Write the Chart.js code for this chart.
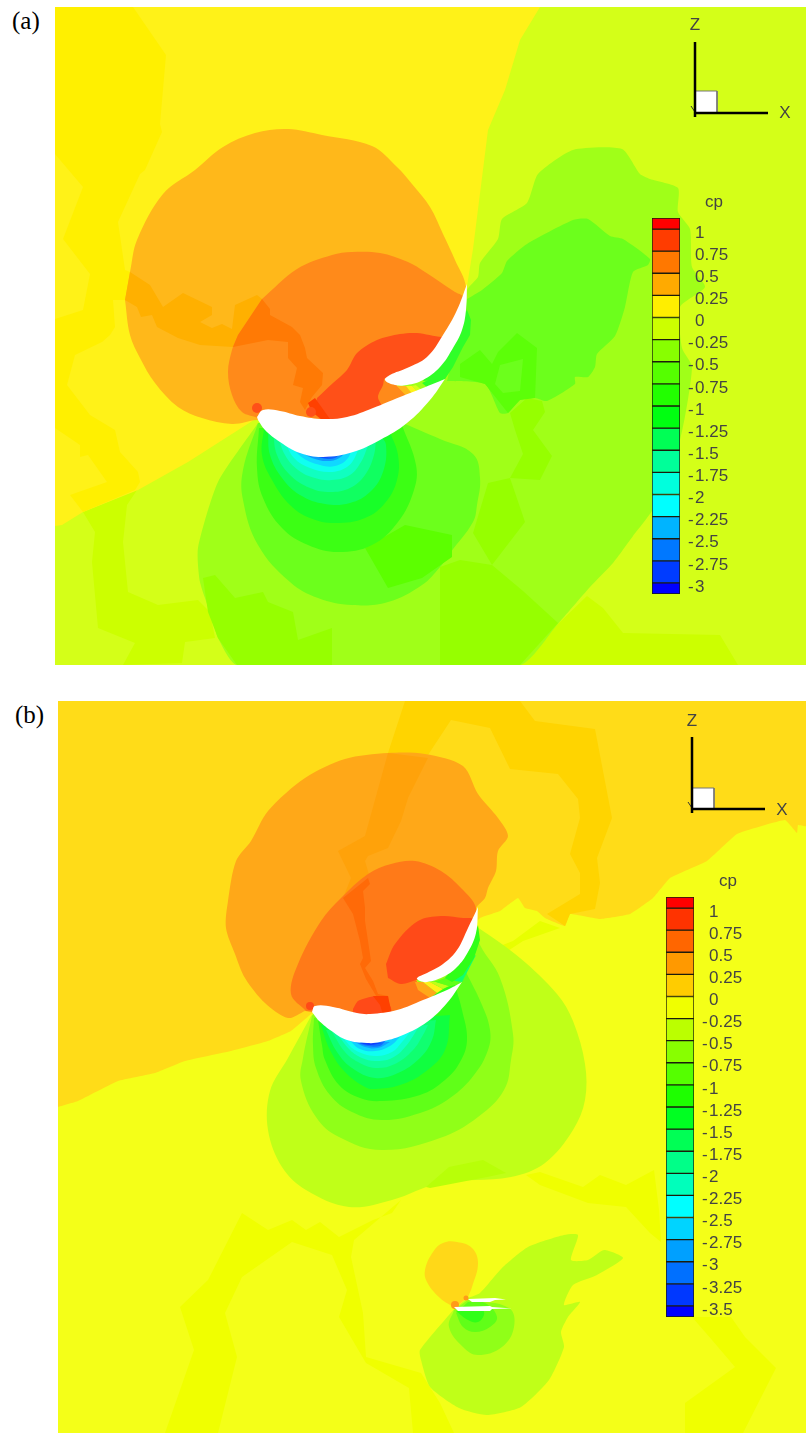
<!DOCTYPE html>
<html>
<head>
<meta charset="utf-8">
<title>cp contours</title>
<script src="https://cdn.jsdelivr.net/npm/chart.js@4/dist/chart.umd.min.js"></script>
<style>
html, body { margin: 0; background: #fff; overflow: hidden; }
#page { position: relative; width: 806px; height: 1433px; }
#page canvas { position: absolute; }
.tag { position: absolute; font: 25px "Liberation Serif", serif; color: #000; }
</style>
</head>
<body>
<div id="page">
  <div class="tag" style="left:12px;top:7px">(a)</div>
  <div class="tag" style="left:15px;top:701px">(b)</div>
  <canvas id="fieldA" style="left:55px;top:7px"></canvas>
  <canvas id="fieldB" style="left:58px;top:701px"></canvas>
  <canvas id="barA" style="left:652px;top:218px"></canvas>
  <canvas id="barB" style="left:666px;top:897px"></canvas>
</div>
<script>
// colour bar values
const ticksA = [1, 0.75, 0.5, 0.25, 0, -0.25, -0.5, -0.75, -1, -1.25, -1.5, -1.75, -2, -2.25, -2.5, -2.75, -3];
const ticksB = [1, 0.75, 0.5, 0.25, 0, -0.25, -0.5, -0.75, -1, -1.25, -1.5, -1.75, -2, -2.25, -2.5, -2.75, -3, -3.25, -3.5];
const topA = 1.125, endA = -3.125;
const topB = 1.125, endB = -3.625;
const bandsA = ['#ff0000','#ff3c00','#ff7800','#ffaa00','#ffee00','#ccff00','#88ff00','#55ff00','#22ff00','#00ff11','#00ff55','#00ff99','#00ffdd','#00ffff','#00b4ff','#0078ff','#003cff','#0000ff'];
const bandsB = ['#ff0000','#ff3300','#ff6600','#ff9900','#ffcc00','#f0ff00','#bbff00','#88ff00','#55ff00','#1eff00','#00ff22','#00ff55','#00ff88','#00ffbb','#00ffff','#00d4ff','#00a0ff','#0070ff','#0038ff','#0000ff'];

// contours are x,y pairs in picture units, read off the reference
// panel (a)
const aBox = [55,7, 806,7, 806,665, 55,665];
const aCamber = [462,320, 448,350, 422,372, 395,381, 408,400, 380,425, 350,435, 300,435, 262,422];
const aLowRight = [520,665, 557,625, 587,596, 603,608, 623,633, 720,635, 738,665];
const aLowLeft = [83,512, 137,490, 127,505, 123,542, 128,592, 158,605, 198,600, 210,612, 215,638, 185,642, 182,663, 123,665, 135,643, 98,628, 92,562, 95,532];
const aYellow = [55,7, 540,7, 520,40, 505,90, 488,130, 473,249, 468,280, ...aCamber, 257,418, 188,462, 138,490, 83,512, 62,525, 55,526];
const aYellowDark = [55,7, 133,7, 166,55, 160,124, 162,132, 145,170, 140,174, 118,222, 125,270, 130,272, 125,300, 113,300, 115,327, 110,335, 102,342, 75,355, 67,385, 90,415, 115,430, 120,452, 138,472, 140,482, 135,490, 83,512, 70,495, 107,482, 88,455, 80,457, 80,445, 55,428, 55,319, 83,310, 90,274, 63,239, 83,187, 55,154];
const aMinus25 = [258,423, 218,482, 198,548, 200,582, 212,618, 218,638, 237,665, 520,665, 557,625, 590,587, 613,563, 633,536, 653,509, 680,440, 692,367, 682,348, 680,307, 705,287, 692,267, 690,229, 678,212, 678,188, 650,179, 640,174, 622,149, 573,150, 538,174, 527,203, 502,219, 498,239, 480,263, 478,277, 467,290, ...aCamber];
const aPatch1 = [203,578, 215,575, 235,598, 263,592, 268,602, 293,612, 298,640, 332,628, 332,665, 237,665, 218,638, 208,612];
const aPatch2 = [510,413, 527,398, 542,401, 545,412, 533,430, 552,456, 540,480, 510,478, 523,454, 515,430];
const aPatch3 = [488,483, 510,478, 523,516, 525,522, 492,565, 473,533];
const aPatch4 = [440,567, 460,560, 492,565, 523,591, 558,623, 520,665, 440,665];
const aWake = [467,299, 482,290, 502,273, 507,261, 527,244, 573,220, 588,219, 610,236, 623,239, 650,259, 648,265, 633,272, 625,307, 615,336, 597,354, 595,367, 588,377, 575,377, 575,384, 547,401, 535,398, 520,400, 508,413, 500,413, 485,384, 447,381];
const aWakeDark = [460,364, 480,350, 492,364, 498,352, 517,333, 537,348, 535,398, 520,400, 508,413, 485,384, 460,377];
const aWakeHole = [495,384, 500,365, 523,359, 520,391, 503,393];
const aRing50 = [258,423, 243,470, 243,500, 258,545, 290,582, 318,598, 352,605, 388,602, 422,585, 440,567, 450,553, 473,522, 477,505, 480,478, 473,454, 440,439, 405,424];
const aRing50b = [365,548, 405,525, 452,535, 452,557, 422,578, 388,588];
const aRing75 = [259,428, 257,468, 263,498, 282,528, 308,545, 338,552, 372,545, 398,522, 414,490, 416,465, 402,425];
const aRing100 = [264,428, 262,455, 272,480, 290,505, 310,518, 335,523, 365,518, 385,503, 397,480, 398,455, 390,432];
const aRing125 = [268,432, 270,455, 282,478, 300,495, 325,504, 350,503, 370,492, 383,472, 386,445, 380,435];
const aRing150 = [273,432, 277,455, 290,475, 310,488, 330,492, 350,488, 365,475, 374,455, 376,438];
const aRing175 = [278,436, 285,455, 298,470, 315,478, 332,480, 350,475, 361,462, 368,446];
const aRing200 = [285,442, 294,458, 310,468, 330,472, 347,467, 356,455, 360,440];
const aRing225 = [290,445, 303,458, 320,465, 335,466, 348,458, 352,444];
const aRing250 = [298,449, 312,458, 330,461, 342,456, 347,447];
const aRing275 = [308,452, 322,458, 335,458, 342,450];
const aRing300 = [314,454, 325,457.5, 336,454];
const aPlus25 = [130,272, 137,240, 163,194, 195,170, 223,147, 255,133, 288,129, 322,135, 372,146, 397,167, 412,184, 430,207, 443,234, 455,260, 466,287, ...aCamber, 257,420, 232,424, 202,418, 178,407, 155,383, 140,358, 130,335, 125,300];
const aPlus25Dark = [130,272, 150,285, 163,307, 183,293, 212,307, 212,315, 200,322, 212,328, 222,324, 232,329, 235,305, 257,295, 262,299, 238,335, 233,347, 200,345, 178,338, 157,327, 152,315, 141,317, 137,307, 125,300];
const aPlus50 = [262,299, 297,269, 332,255, 352,252, 380,253, 408,262, 425,272, 455,292, 463,297, ...aCamber, 258,418, 242,412, 232,395, 228,372, 232,350, 238,335];
const aPlus50Dark = [262,299, 270,309, 270,315, 292,327, 300,335, 305,348, 307,358, 323,373, 322,385, 312,397, 305,410, 300,402, 303,388, 293,385, 297,368, 288,358, 288,342, 268,340, 233,347, 238,335];
const aPlus75 = [317,398, 333,383, 347,370, 357,353, 377,340, 400,334, 417,333, 442,337, 452,335, 436,360, 412,372, 392,380, 385,378, 383,385, 378,397, 383,408, 383,415, 357,425, 330,425, 322,418, 315,407];
const aPlus75Dark = [308,403, 315,398, 330,419, 322,420, 312,412];
const aSlot1 = [397,386, 406,386, 414,396, 409,399];
const aSlot2 = [406,386, 412,386, 419,393, 414,396];
const aSlot3 = [412,386, 416,385, 423,391, 419,393];
const aSlot4 = [416,385, 422,383, 428,388, 423,391];
const aSlot5 = [422,383, 432,378, 445,379, 428,388];
const aSlatBand = [467,310, 471,320, 470,335, 463,347, 453,367, 445,379, 423,381];
// repeated points keep the tips sharp when the outline is smoothed
const aMain = [257,417, 263,410, 280,411, 300,416, 323,419, 347,417, 373,408, 400,397, 423,388, 445,379, 445,379, 430,400, 407,423, 380,440, 353,452, 323,457, 300,453, 280,442, 265,430, 258,420];
const aSlat = [467,284, 467,284, 466,310, 462,330, 453,348, 440,367, 423,380, 407,385, 395,385, 385,380, 390,375, 407,368, 427,357, 443,335, 457,310, 467,284];
const aSpots = [[257,408], [311,412]];
const aTriadZ = [695,42, 695,117];
const aTriadX = [695,113, 768,113];
const aTriadY = [691,106, 695,112];
const aTriadBox = [695,91, 717,91, 717,113, 695,113];

// panel (b)
const bBox = [58,701, 806,701, 806,1433, 58,1433];
const bCamber = [470,930, 455,958, 430,976, 416,979, 432,1002, 400,1020, 370,1030, 330,1020, 315,1012];
const bUpper = [58,701, 806,701, 806,826, 798,825, 797,833, 785,820, 737,834, 707,861, 670,878, 653,898, 630,914, 600,919, 570,914, 565,926, 545,918, 537,911, 525,908, 518,898, 500,911, 480,918, ...bCamber, 311,1014, 291,1031, 268,1041, 231,1051, 185,1061, 155,1073, 118,1081, 78,1101, 58,1107];
const bUpperDark = [405,701, 520,701, 535,721, 595,729, 612,818, 597,858, 600,883, 595,909, 570,914, 565,926, 547,914, 580,894, 580,873, 570,854, 580,818, 578,799, 558,774, 510,769, 490,728, 451,720, 426,758, 388,753];
const bStrip1 = [242,1213, 268,1230, 292,1220, 306,1230, 320,1222, 339,1237, 373,1220, 392,1213, 401,1200, 354,1240, 351,1257, 363,1313, 366,1357, 421,1373, 440,1403, 454,1433, 413,1433, 409,1388, 366,1363, 339,1317, 347,1290, 332,1255, 292,1242, 242,1277, 225,1313, 237,1357, 218,1433, 165,1433, 194,1350, 180,1307, 208,1280];
const bStrip2 = [526,1175, 540,1172, 583,1187, 600,1175, 626,1185, 654,1170, 659,1210, 661,1242, 650,1233, 626,1207, 588,1203, 540,1185];
const bStrip3 = [692,1317, 731,1317, 745,1337, 776,1368, 743,1433, 685,1433, 685,1403, 735,1367, 712,1340];
const bWakeEdge = [513,941, 540,921, 560,928, 523,941, 497,958, 487,951];
const bMinus25 = [311,1016, 288,1058, 270,1091, 268,1130, 282,1167, 306,1190, 349,1207, 392,1200, 440,1183, 511,1177, 545,1163, 573,1130, 585,1100, 585,1064, 573,1021, 557,994, 520,958, 483,931, 477,928, ...bCamber];
const bRidge = [426,1187, 449,1167, 483,1160, 506,1173, 487,1177, 430,1188];
const bMinus50 = [312,1016, 303,1058, 301,1081, 316,1117, 339,1137, 382,1150, 440,1138, 478,1117, 504,1090, 511,1060, 513,1034, 500,978, 480,945, 473,925, ...bCamber];
const bMinus75 = [314,1018, 313,1045, 316,1068, 330,1095, 352,1112, 382,1120, 420,1113, 450,1098, 474,1075, 488,1050, 490,1030, 482,1005, 466,972];
const bMinus100 = [318,1020, 322,1045, 325,1060, 339,1085, 360,1098, 382,1101, 420,1095, 445,1080, 460,1062, 467,1040, 462,1010, 455,985];
const bMinus125 = [321,1025, 330,1050, 345,1072, 365,1087, 375,1089, 400,1085, 425,1072, 445,1050, 450,1015];
const bMinus150 = [326,1030, 337,1052, 352,1068, 375,1078, 398,1073, 420,1058, 432,1040, 436,1020];
const bMinus175 = [332,1032, 345,1052, 358,1062, 375,1068, 395,1064, 413,1050, 423,1035, 428,1025];
const bMinus200 = [338,1035, 350,1050, 362,1058, 375,1061, 392,1058, 406,1046, 418,1028];
const bMinus225 = [343,1038, 355,1050, 375,1056, 392,1052, 402,1042, 410,1032];
const bMinus250 = [349,1040, 360,1049, 375,1051, 390,1046, 400,1037];
const bMinus275 = [353,1041, 365,1047, 378,1048, 390,1042];
const bMinus300 = [358,1043, 368,1046, 380,1046, 386,1040];
const bMinus325 = [360,1043, 370,1045, 382,1043];
const bPlus25 = [305,1011, 288,1018, 265,1003, 245,978, 235,954, 226,928, 228,901, 236,861, 251,841, 268,811, 305,778, 345,759, 388,753, 425,754, 463,766, 478,794, 498,818, 508,836, 498,851, 496,871, 488,888, 485,898, 476,908, ...bCamber];
const bPlus25Dark = [388,753, 428,758, 408,798, 401,821, 388,848, 368,856, 365,861, 370,878, 343,898, 351,878, 338,851, 365,836];
const bPlus50 = [306,1011, 291,994, 298,964, 321,921, 341,898, 368,874, 391,864, 415,861, 441,871, 461,888, 476,908, ...bCamber];
const bPlus50Dark = [343,898, 368,878, 370,884, 363,891, 365,908, 365,921, 368,941, 371,961, 365,968, 373,981, 378,994, 388,996, 391,1011, 386,1013, 375,994, 366,979, 360,964, 363,958, 360,941, 353,914];
const bPlus75 = [386,964, 395,944, 418,921, 441,916, 463,918, 474,920, 463,947, 447,968, 427,977, 416,980, 401,984, 388,978];
const bPlus75Low = [353,1009, 358,1001, 375,996, 386,998, 391,1008, 391,1018, 353,1018];
const bPlus75Dark = [373,996, 388,996, 391,1011, 391,1018, 384,1018, 380,1005];
const bSlot1 = [415,982, 423,982, 437,993, 430,998, 418,990];
const bSlot2 = [423,982, 430,982, 443,989, 437,993];
const bSlot3 = [430,982, 436,982, 449,986, 443,989];
const bSlot4 = [436,982, 445,978, 456,981, 449,986];
const bSlot5 = [445,978, 465,962, 476,955, 462,982, 456,981];
const bSlatBand = [478,925, 480,940, 474,958, 463,975, 452,982, 445,978, 470,947];
const bMain = [312,1012, 315,1006, 333,1007, 357,1013, 370,1014, 397,1010, 423,1000, 447,990, 462,982, 462,982, 447,1003, 427,1022, 403,1035, 380,1042, 367,1043, 347,1040, 330,1030, 318,1020];
const bSlat = [478,907, 478,907, 476,933, 468,952, 457,967, 443,977, 427,982, 420,981, 417,978, 427,973, 443,964, 457,950, 468,928, 478,907];
const bSpots = [[310,1006]];
// small far-field airfoil in (b)
const cTear = [455,1308, 440,1298, 427,1282, 425,1270, 433,1252, 443,1243, 457,1242, 472,1248, 478,1263, 472,1287, 468,1297];
const cOuter = [455,1308, 420,1350, 421,1360, 430,1387, 459,1408, 487,1415, 521,1407, 549,1380, 564,1347, 561,1332, 568,1317, 580,1302, 564,1305, 573,1285, 597,1275, 623,1258, 604,1250, 588,1260, 571,1260, 578,1235, 564,1235, 528,1247, 502,1268, 480,1293, 468,1298];
const cInner50 = [454,1310, 449,1327, 463,1347, 478,1355, 502,1347, 514,1327, 509,1308, 468,1300];
const cInner75 = [456,1313, 463,1327, 475,1332, 490,1327, 497,1317, 485,1303, 468,1302];
const cInner100 = [456,1311, 468,1320, 478,1322, 484,1315, 483,1308];
const cMain = [454,1307, 490,1306, 492,1307, 512,1308.5, 492,1309, 490,1311, 458,1311];
const cSlat = [468,1299, 495,1298, 506,1299.5, 495,1300, 490,1302, 472,1302];
const cSpots = [[455,1305]];
const cSpotsSmall = [[466,1298]];
const bTriadZ = [692,737, 692,813];
const bTriadX = [692,809, 765,809];
const bTriadY = [688,802, 692,808];
const bTriadBox = [692,788, 714,788, 714,809, 692,809];

// x,y list to chart points
function pts(flat) {
    var out = [];
    for (var i = 0; i < flat.length; i += 2) out.push({x: flat[i], y: flat[i + 1]});
    return out;
}

function area(flat, color, tension) {
    return {data: pts(flat), showLine: true, fill: 'shape', backgroundColor: color, borderWidth: 0, pointRadius: 0, tension: tension || 0};
}

function spot(list, color, r) {
    return {data: list.map(function(p) { return {x: p[0], y: p[1]}; }), showLine: false, backgroundColor: color, borderWidth: 0, pointRadius: r, pointHoverRadius: r};
}

function stroke(flat, color, w) {
    return {data: pts(flat), showLine: true, fill: false, borderColor: color, borderWidth: w, pointRadius: 0, tension: 0};
}

// writes Z, X and cp at their data position
function notes(items) {
    return {
        id: 'notes',
        afterDatasetsDraw: function(chart) {
            var ctx = chart.ctx;
            ctx.save();
            ctx.font = '17px "Liberation Sans", sans-serif';
            ctx.fillStyle = '#444';
            ctx.textAlign = 'center';
            ctx.textBaseline = 'middle';
            items.forEach(function(n) {
                ctx.fillText(n[0], chart.scales.x.getPixelForValue(n[1]), chart.scales.y.getPixelForValue(n[2]));
            });
            ctx.restore();
        }
    };
}

function field(id, xr, yr, layers, labels) {
    var cv = document.getElementById(id);
    cv.width = xr[1] - xr[0];
    cv.height = yr[1] - yr[0];
    new Chart(cv, {
        type: 'scatter',
        // first dataset is painted last in chart.js
        data: {datasets: layers.slice().reverse()},
        options: {
            responsive: false,
            animation: false,
            events: [],
            layout: {padding: 0, autoPadding: false},
            plugins: {legend: {display: false}, tooltip: {enabled: false}},
            scales: {
                x: {type: 'linear', display: false, min: xr[0], max: xr[1]},
                y: {type: 'linear', display: false, min: yr[0], max: yr[1], reverse: true}
            }
        },
        plugins: [notes(labels)]
    });
}

function colorBar(id, ticks, top, end, bands, w, h) {
    var edges = [top].concat(ticks, [end]);
    var cv = document.getElementById(id);
    cv.width = w;
    cv.height = h;
    new Chart(cv, {
        type: 'bar',
        data: {
            labels: ['cp'],
            datasets: bands.map(function(c, i) {
                return {data: [[edges[i + 1], edges[i]]], backgroundColor: c, borderColor: '#1c1c0c', borderWidth: 1, borderSkipped: false, barPercentage: 1, categoryPercentage: 1};
            })
        },
        options: {
            responsive: false,
            animation: false,
            events: [],
            layout: {padding: 0},
            plugins: {legend: {display: false}, tooltip: {enabled: false}},
            scales: {
                x: {display: false, stacked: true},
                y: {
                    position: 'right',
                    min: end,
                    max: top,
                    grid: {display: false, drawTicks: false},
                    border: {display: false},
                    afterBuildTicks: function(ax) { ax.ticks = ticks.map(function(v) { return {value: v}; }); },
                    afterFit: function(ax) { ax.width = w - 28; ax.paddingTop = 0; ax.paddingBottom = 0; },
                    ticks: {
                        autoSkip: false,
                        padding: 8,
                        labelOffset: 4,
                        color: '#444',
                        font: {family: '"Liberation Sans", sans-serif', size: 17},
                        callback: function(v) { return (v < 0 ? '-\u200a' : '\u2004\u200a') + Math.abs(v); }
                    }
                }
            }
        }
    });
}

field('fieldA', [55, 806], [7, 665], [
    area(aBox, '#d4ff18'),
    area(aLowRight, '#ccff00'),
    area(aLowLeft, '#ccff00'),
    area(aYellow, '#fff218'),
    area(aYellowDark, '#fff000'),
    area(aMinus25, '#a0ff18', 0.2),
    area(aPatch1, '#96ff00'),
    area(aPatch2, '#96ff00'),
    area(aPatch3, '#96ff00'),
    area(aPatch4, '#96ff00'),
    area(aWake, '#6cff1c', 0.2),
    area(aWakeDark, '#5cff08'),
    area(aWakeHole, '#6cff1c'),
    area(aRing50, '#6cff1c', 0.4),
    area(aRing50b, '#5cff00'),
    area(aRing75, '#3cff14', 0.4),
    area(aRing100, '#18ff28', 0.4),
    area(aRing125, '#10ff60', 0.4),
    area(aRing150, '#10ff90', 0.4),
    area(aRing175, '#10ffc0', 0.4),
    area(aRing200, '#10fff0', 0.4),
    area(aRing225, '#10d8ff', 0.4),
    area(aRing250, '#1098ff', 0.4),
    area(aRing275, '#1060ff', 0.4),
    area(aRing300, '#1030ff', 0.4),
    area(aPlus25, '#ffb81a', 0.35),
    area(aPlus25Dark, '#ffb000'),
    area(aPlus50, '#ff8a1a', 0.35),
    area(aPlus50Dark, '#ff7a05'),
    area(aPlus75, '#ff5018', 0.3),
    area(aPlus75Dark, '#ff4000'),
    spot(aSpots, '#ff5018', 5),
    area(aSlot1, '#ffb81a'),
    area(aSlot2, '#fff218'),
    area(aSlot3, '#d4ff18'),
    area(aSlot4, '#a0ff18'),
    area(aSlot5, '#30ff28'),
    area(aSlatBand, '#30ff28'),
    area(aMain, '#ffffff', 0.4),
    area(aSlat, '#ffffff', 0.4),
    stroke(aTriadY, '#333', 1),
    area(aTriadBox, '#ffffff'),
    stroke(aTriadBox.concat(aTriadBox.slice(0, 2)), '#777', 1),
    stroke(aTriadZ, '#000', 2.5),
    stroke(aTriadX, '#000', 2.5)
], [['Z', 695, 25], ['X', 785, 113], ['cp', 714, 202]]);

field('fieldB', [58, 806], [701, 1433], [
    area(bBox, '#f4ff18'),
    area(bStrip1, '#f0ff00'),
    area(bStrip2, '#f0ff00'),
    area(bStrip3, '#f0ff00'),
    area(bWakeEdge, '#e8ff00'),
    area(bMinus25, '#c0ff18', 0.35),
    area(bRidge, '#b8ff08'),
    area(bMinus50, '#90ff18', 0.4),
    area(bMinus75, '#60ff18', 0.4),
    area(bMinus100, '#30ff18', 0.4),
    area(bMinus125, '#10ff40', 0.4),
    area(bMinus150, '#10ff70', 0.4),
    area(bMinus175, '#10ff98', 0.4),
    area(bMinus200, '#10ffc8', 0.4),
    area(bMinus225, '#10fff0', 0.4),
    area(bMinus250, '#10d0ff', 0.4),
    area(bMinus275, '#10a0ff', 0.4),
    area(bMinus300, '#1070ff', 0.4),
    area(bMinus325, '#1040ff', 0.4),
    area(bUpper, '#ffdc18', 0.1),
    area(bUpperDark, '#ffd400'),
    area(bPlus25, '#ffa818', 0.3),
    area(bPlus25Dark, '#ffa20a'),
    area(bPlus50, '#ff7a18', 0.35),
    area(bPlus50Dark, '#ff6a08'),
    area(bPlus75, '#ff4a18', 0.35),
    area(bPlus75Low, '#ff4a18', 0.2),
    area(bPlus75Dark, '#ff4000'),
    spot(bSpots, '#ff4a18', 4),
    area(bSlot1, '#ffa818'),
    area(bSlot2, '#fff018'),
    area(bSlot3, '#c0ff18'),
    area(bSlot4, '#60ff18'),
    area(bSlot5, '#10ff70'),
    area(bSlatBand, '#30ff18'),
    area(bMain, '#ffffff', 0.4),
    area(bSlat, '#ffffff', 0.4),
    area(cOuter, '#c0ff18', 0.2),
    area(cTear, '#ffd818', 0.4),
    area(cInner50, '#90ff18', 0.4),
    area(cInner75, '#60ff18', 0.4),
    area(cInner100, '#30ff18', 0.4),
    spot(cSpots, '#ff9a18', 4),
    spot(cSpotsSmall, '#ff9a18', 2.5),
    area(cMain, '#ffffff'),
    area(cSlat, '#ffffff'),
    stroke(bTriadY, '#333', 1),
    area(bTriadBox, '#ffffff'),
    stroke(bTriadBox.concat(bTriadBox.slice(0, 2)), '#777', 1),
    stroke(bTriadZ, '#000', 2.5),
    stroke(bTriadX, '#000', 2.5)
], [['Z', 692, 721], ['X', 782, 810], ['cp', 728, 881]]);

colorBar('barA', ticksA, topA, endA, bandsA, 90, 376);
colorBar('barB', ticksB, topB, endB, bandsB, 90, 420);
</script>
</body>
</html>
